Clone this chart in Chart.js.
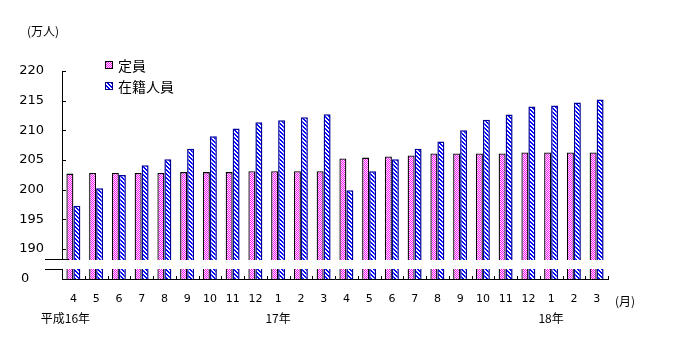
<!DOCTYPE html>
<html><head><meta charset="utf-8">
<script src="https://cdn.jsdelivr.net/npm/chart.js@4"></script>
<style>html,body{margin:0;padding:0;background:#fff}#wrap{width:682px;height:357px;position:relative}</style>
</head><body><div id="wrap"><canvas id="c" width="682" height="357"></canvas></div>
<script>
const months = ['4','5','6','7','8','9','10','11','12','1','2','3','4','5','6','7','8','9','10','11','12','1','2','3'];
const teiin = [202.7,202.8,202.8,202.8,202.8,202.95,202.95,202.95,203.1,203.1,203.1,203.1,205.25,205.4,205.6,205.75,206.1,206.1,206.1,206.1,206.25,206.25,206.25,206.25];
const zaiseki = [197.3,200.25,202.45,204.1,205.1,206.9,209.0,210.3,211.35,211.7,212.2,212.7,199.9,203.1,205.1,206.9,208.1,210.0,211.8,212.65,214.0,214.2,214.7,215.2];
const yTickValues = [190,195,200,205,210,215,220];
const yearIndex = [0,9,21];
const yearText = ['平成16年','17年','18年'];
const seriesNames = ['定員','在籍人員'];
const unitLabel = '(万人)';
const monthUnit = '(月)';
const zeroLabel = '0';

const CJK = '"Noto Sans CJK JP", "DejaVu Sans", sans-serif';

function makePattern(w, h, fg, test){
  const c = document.createElement('canvas'); c.width = w; c.height = h;
  const g = c.getContext('2d');
  g.fillStyle = '#fff'; g.fillRect(0,0,w,h);
  g.fillStyle = fg;
  for (let yy=0; yy<h; yy++) for (let xx=0; xx<w; xx++) if (test(xx,yy)) g.fillRect(xx,yy,1,1);
  return document.getElementById('c').getContext('2d').createPattern(c,'repeat');
}
const pinkPat = makePattern(2,2,'#ff00ff',(x,y)=>(x+y)%2===0);
const bluePat = makePattern(4,4,'#0000ff',(x,y)=>{const d=((x-y)%4+4)%4; return d===0||d===1;});

const extras = {
  id:'extras',
  afterDatasetsDraw(chart){
    const {ctx, chartArea:a, scales:{x,y}} = chart;
    ctx.save();
    // axis break gap
    const yt = Math.round(y.getPixelForValue(188.1));
    const yb = Math.round(y.getPixelForValue(186.6));
    ctx.fillStyle = '#fff';
    ctx.fillRect(a.left-1, yt, a.right-a.left+2, yb-yt);
    ctx.strokeStyle = '#000'; ctx.lineWidth = 1;
    ctx.beginPath();
    ctx.moveTo(a.left-17, yt-0.5); ctx.lineTo(a.left+7, yt-0.5);
    ctx.moveTo(a.left-17, yb+0.5); ctx.lineTo(a.left, yb+0.5);
    ctx.stroke();
    // inward y ticks
    ctx.beginPath();
    yTickValues.forEach(v=>{const py=Math.round(y.getPixelForValue(v))+0.5; ctx.moveTo(a.left, py); ctx.lineTo(a.left+4, py);});
    // x ticks between categories
    const n = months.length, w = (a.right-a.left)/n;
    for (let k=1;k<=n;k++){const px=Math.round(a.left+k*w)+0.5; ctx.moveTo(px, a.bottom); ctx.lineTo(px, a.bottom-3);}
    ctx.stroke();
    // texts
    ctx.fillStyle = '#000';
    ctx.textBaseline = 'middle';
    ctx.textAlign = 'left';
    ctx.font = '12px ' + CJK;
    ctx.fillText(unitLabel, 27, 31);
    ctx.fillText(monthUnit, 615, 301);
    ctx.font = '13px "DejaVu Sans"';
    ctx.fillText(zeroLabel, 21, 279);
    ctx.font = '12px ' + CJK;
    ctx.textAlign = 'center';
    yearIndex.forEach((idx,i)=>{
      const px = x.getPixelForValue(idx) + (i===0 ? -8 : 0);
      ctx.fillText(yearText[i], px, 318);
    });
    // legend
    const pats = [pinkPat, bluePat], borders = ['#000','#000080'];
    ctx.textAlign = 'left';
    ctx.font = '14px ' + CJK;
    seriesNames.forEach((s,i)=>{
      const by = 61 + i*21;
      ctx.fillStyle = pats[i]; ctx.fillRect(105, by, 8, 8);
      ctx.strokeStyle = borders[i]; ctx.strokeRect(105.5, by+0.5, 7, 7);
      ctx.fillStyle = '#000'; ctx.fillText(s, 118, by+4.5);
    });
    ctx.restore();
  }
};

new Chart(document.getElementById('c'), {
  type:'bar',
  data:{
    labels: months,
    datasets:[
      {label:seriesNames[0], data:teiin, backgroundColor:pinkPat, borderColor:'#000', borderWidth:1.3, inflateAmount:0, categoryPercentage:0.614, barPercentage:1},
      {label:seriesNames[1], data:zaiseki, backgroundColor:bluePat, borderColor:'#000099', borderWidth:1.5, inflateAmount:0, categoryPercentage:0.614, barPercentage:1}
    ]
  },
  options:{
    responsive:false, animation:false, devicePixelRatio:1,
    layout:{padding:{left:0,right:74,top:71,bottom:0}},
    plugins:{legend:{display:false}, tooltip:{enabled:false}},
    scales:{
      x:{
        grid:{display:false, drawTicks:false}, border:{display:true,color:'#000',width:1},
        ticks:{color:'#000', font:{family:'DejaVu Sans', size:11}, padding:14, maxRotation:0, autoSkip:false},
        afterFit(s){ s.height = 78; }
      },
      y:{
        min:184.93, max:220,
        grid:{display:false, drawTicks:false}, border:{display:true,color:'#000',width:1},
        afterBuildTicks(s){ s.ticks = yTickValues.map(v=>({value:v})); },
        ticks:{color:'#000', font:{family:'DejaVu Sans', size:13}, padding:18},
        afterFit(s){ s.width = 62; }
      }
    }
  },
  plugins:[extras]
});
</script></body></html>
